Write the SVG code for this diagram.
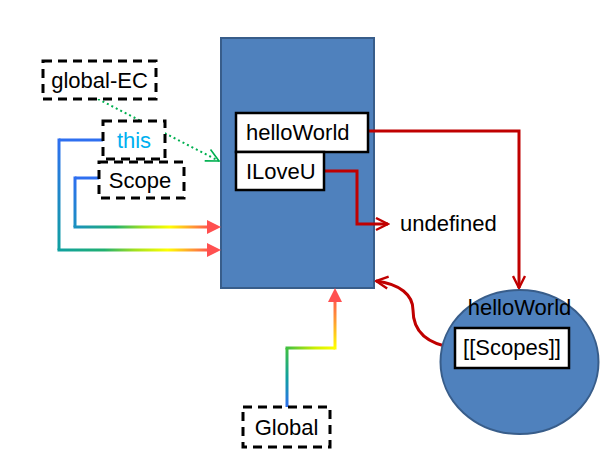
<svg xmlns="http://www.w3.org/2000/svg" width="606" height="462" viewBox="0 0 606 462">
<style>
text{font-family:"Liberation Sans",Arial,sans-serif;font-size:22px;fill:#000;}
.dash{fill:#fff;stroke:#000;stroke-width:3;stroke-dasharray:9 6;}
.box{fill:#fff;stroke:#000;stroke-width:2.5;}
.red{fill:none;stroke:#C00000;stroke-width:3;}
.g{fill:none;stroke-width:3;}
</style>
<defs>
<linearGradient id="gv1" gradientUnits="userSpaceOnUse" x1="0" y1="140" x2="0" y2="250"><stop offset="0" stop-color="#2E6FF0"/><stop offset="1" stop-color="#10A0A0"/></linearGradient>
<linearGradient id="gh1" gradientUnits="userSpaceOnUse" x1="59" y1="0" x2="210" y2="0"><stop offset="0" stop-color="#10A0A0"/><stop offset="0.3" stop-color="#20B070"/><stop offset="0.5" stop-color="#A0E020"/><stop offset="0.72" stop-color="#FFFF00"/><stop offset="0.87" stop-color="#FFA030"/><stop offset="1" stop-color="#FF5050"/></linearGradient>
<linearGradient id="gv2" gradientUnits="userSpaceOnUse" x1="0" y1="178" x2="0" y2="227"><stop offset="0" stop-color="#2E6FF0"/><stop offset="1" stop-color="#1A90C0"/></linearGradient>
<linearGradient id="gh2" gradientUnits="userSpaceOnUse" x1="75" y1="0" x2="210" y2="0"><stop offset="0" stop-color="#1A90C0"/><stop offset="0.3" stop-color="#20B070"/><stop offset="0.5" stop-color="#A0E020"/><stop offset="0.7" stop-color="#FFFF00"/><stop offset="0.86" stop-color="#FFA030"/><stop offset="1" stop-color="#FF5050"/></linearGradient>
<linearGradient id="gv3" gradientUnits="userSpaceOnUse" x1="0" y1="407" x2="0" y2="348"><stop offset="0" stop-color="#2E6FF0"/><stop offset="0.5" stop-color="#10A0A0"/><stop offset="1" stop-color="#40C040"/></linearGradient>
<linearGradient id="gh3" gradientUnits="userSpaceOnUse" x1="287" y1="0" x2="335" y2="0"><stop offset="0" stop-color="#40C040"/><stop offset="0.6" stop-color="#D0F000"/><stop offset="1" stop-color="#FFFF00"/></linearGradient>
<linearGradient id="gv4" gradientUnits="userSpaceOnUse" x1="0" y1="348" x2="0" y2="296"><stop offset="0" stop-color="#FFFF00"/><stop offset="0.5" stop-color="#FFA030"/><stop offset="1" stop-color="#FF5050"/></linearGradient>
<marker id="redOpen" viewBox="0 0 10 10" refX="9" refY="5" markerWidth="5" markerHeight="5" orient="auto" markerUnits="strokeWidth"><path d="M1,1 L9,5 L1,9" fill="none" stroke="#C00000" stroke-width="1.6"/></marker>
<marker id="greenOpen" viewBox="0 0 10 10" refX="9" refY="5" markerWidth="8" markerHeight="8" orient="auto" markerUnits="strokeWidth"><path d="M1,1 L9,5 L1,9" fill="none" stroke="#00B050" stroke-width="1"/></marker>
</defs>

<g id="main-rect"><rect x="221" y="38" width="153" height="250" fill="#4F81BD" stroke="#385D8A" stroke-width="2"/></g>

<g id="connectors">
<line x1="98" y1="99" x2="219" y2="161" stroke="#00B050" stroke-width="2" stroke-dasharray="2 3" marker-end="url(#greenOpen)"/>
<path class="g" d="M103,140 H59" stroke="#2E6FF0"/>
<path class="g" d="M59,138.5 V250" stroke="url(#gv1)"/>
<path class="g" d="M57.5,250 H208" stroke="url(#gh1)"/>
<polygon points="207,243 221,250 207,257" fill="#FF5050"/>
<path class="g" d="M99,178 H75" stroke="#2E6FF0"/>
<path class="g" d="M75,176.5 V227" stroke="url(#gv2)"/>
<path class="g" d="M73.5,227 H208" stroke="url(#gh2)"/>
<polygon points="207,220 221,227 207,234" fill="#FF5050"/>
<path class="g" d="M287,407 V348" stroke="url(#gv3)"/>
<path class="g" d="M285.5,348 H335" stroke="url(#gh3)"/>
<path class="g" d="M335,349.5 V300" stroke="url(#gv4)"/>
<polygon points="328,302 335,288 342,302" fill="#FF5050"/>
<path class="red" d="M368,131 H519 V288" marker-end="url(#redOpen)"/>
<path class="red" d="M324,171 H357 V224 H388" marker-end="url(#redOpen)"/>
<path class="red" d="M455,348 C425,344 413,330 413,310 C413,295 400,284 376,281" marker-end="url(#redOpen)"/>
</g>

<g id="global-ec"><rect class="dash" x="43" y="61" width="113" height="38"/><text x="99.5" y="88" text-anchor="middle">global-EC</text></g>
<g id="this"><rect class="dash" x="103" y="121" width="62" height="38"/><text x="134" y="148" text-anchor="middle" style="fill:#00B0F0">this</text></g>
<g id="scope"><rect class="dash" x="99" y="162" width="85" height="36"/><text x="140" y="188" text-anchor="middle">Scope</text></g>

<g id="helloWorld-var"><rect class="box" x="236" y="113" width="132" height="39"/><text x="246" y="140">helloWorld</text></g>
<g id="ILoveU-var"><rect class="box" x="236" y="152" width="88" height="38"/><text x="246" y="179">ILoveU</text></g>

<g id="undefined"><text x="400" y="231">undefined</text></g>

<g id="helloWorld-fn">
<ellipse cx="519.5" cy="362" rx="79" ry="72" fill="#4F81BD" stroke="#385D8A" stroke-width="2"/>
<text x="519.5" y="315" text-anchor="middle">helloWorld</text>
<rect class="box" x="455" y="328" width="114" height="40"/>
<text x="512" y="355" text-anchor="middle">[[Scopes]]</text>
</g>

<g id="global"><rect class="dash" x="243" y="407" width="87" height="40"/><text x="286.5" y="435" text-anchor="middle">Global</text></g>
</svg>
